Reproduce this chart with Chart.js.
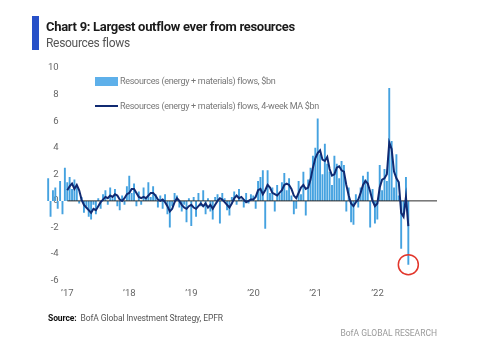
<!DOCTYPE html>
<html>
<head>
<meta charset="utf-8">
<script src="https://cdn.jsdelivr.net/npm/chart.js@4.4.1/dist/chart.umd.min.js"></script>
<style>
    body { margin: 0; background: #fff; }
    #wrap { position: relative; width: 485px; height: 360px; overflow: hidden; font-family: "Roboto", sans-serif; }
    #flowsChart { position: absolute; left: 0; top: 0; }
    .abs { position: absolute; white-space: nowrap; line-height: 1; }
    .accent { left: 32px; top: 16px; width: 7px; height: 34px; background: #2750c8; }
    .title { left: 46px; top: 20px; font-size: 13px; letter-spacing: -0.3px; font-weight: bold; color: #1a1a1a; }
    .subtitle { left: 46px; top: 37px; font-size: 12px; letter-spacing: -0.3px; color: #555; }
    .legend-text { left: 120px; font-size: 9px; letter-spacing: -0.3px; color: #777; }
    .swatch-bar { left: 95px; top: 77px; width: 23px; height: 9px; background: #5eb0ea; }
    .swatch-line { left: 95px; top: 105px; width: 23px; height: 2px; background: #102a72; }
    .source { left: 48px; top: 314px; font-size: 8.5px; letter-spacing: -0.1px; color: #555; }
    .source b { color: #111; }
    .brand { right: 48px; top: 329px; font-size: 8.5px; color: #999; }
</style>
</head>
<body>
<div id="wrap">
    <canvas id="flowsChart" width="485" height="360"></canvas>
    <div class="abs accent"></div>
    <div class="abs title">Chart 9: Largest outflow ever from resources</div>
    <div class="abs subtitle">Resources flows</div>
    <div class="abs swatch-bar"></div>
    <div class="abs legend-text" style="top:76.5px">Resources (energy + materials) flows, $bn</div>
    <div class="abs swatch-line"></div>
    <div class="abs legend-text" style="top:101.5px">Resources (energy + materials) flows, 4-week MA $bn</div>
    <div class="abs source"><b>Source:</b>&nbsp; BofA Global Investment Strategy, EPFR</div>
    <div class="abs brand">BofA GLOBAL RESEARCH</div>
</div>
<script>
const flows2016 = [1.7, -1.2, 0.8, 1.0, -0.6, 1.5, -1.0, 2.5];
const flows2017 = [1.4, 1.8, 0.9, 1.6, 1.2, -0.2, 0.3, -0.9, -0.4, -1.2, -1.4, -0.3, -1.0, 0.2, -0.6, 0.5, 0.8, -0.3, 1.0, 0.2, 0.9, -0.4, -0.7, 0.4, -0.3, 1.1];
const flows2018 = [1.9, 0.6, 1.3, -0.4, 0.7, -0.3, 1.0, 0.2, 1.4, 0.3, 1.1, 0.5, -0.5, 0.4, -0.6, 0.5, -1.0, -2.0, -0.4, 0.6, 0.4, -0.5, -0.8, -0.3, -1.6, 0.2];
const flows2019 = [-1.9, 0.3, -1.2, 0.6, -0.4, 0.8, -1.0, 0.2, -0.8, -1.4, 0.3, 0.5, -1.7, 0.6, 0.2, -0.7, -1.1, 0.3, 0.7, -0.3, 0.9, 0.1, -0.5, 0.6, -0.2, 0.5];
const flows2020 = [0.4, -0.6, 1.5, 1.8, 2.3, -2.1, 2.3, 0.6, 1.0, -0.8, 1.2, 0.5, 1.4, 2.1, 0.8, 1.7, 0.4, -1.0, -0.6, 1.5, 0.5, 2.2, -1.1, 1.6, 2.5, 3.4];
const flows2021 = [4.0, 6.2, 3.5, 2.0, 4.3, 2.8, 2.2, 1.2, 3.4, 2.8, 1.7, 3.0, 2.7, -0.8, 1.0, -1.6, -1.8, 0.5, -0.5, 1.0, 1.9, 1.6, 2.2, -2.0, 0.9, -1.7];
const flows2022 = [-1.4, 2.7, 0.8, 2.4, 1.5, 8.5, 4.5, 1.0, 3.5, 0.4, -3.6, -1.0, 1.8, -4.8];

// 4-week moving average ($bn), same dates; the line starts in 2017
const ma2016 = [null, null, null, null, null, null, null, null];
const ma2017 = [0.8, 1.1, 1.3, 0.9, 1.2, 0.8, 0.1, -0.3, -0.5, -0.7, -0.9, -0.6, -0.7, -0.4, -0.1, 0.1, 0.3, 0.2, 0.4, 0.3, 0.5, 0.4, 0.1, 0.0, 0.2, 0.5];
const ma2018 = [0.6, 0.9, 0.9, 0.6, 0.3, 0.2, 0.3, 0.2, 0.4, 0.6, 0.6, 0.4, 0.1, 0.0, 0.1, -0.1, -0.4, -0.8, -0.6, -0.1, 0.2, 0.0, -0.3, -0.5, -0.6, -0.4];
const ma2019 = [-0.3, -0.5, -0.6, -0.4, -0.2, -0.4, -0.2, -0.5, -0.3, -0.6, -0.3, 0.0, 0.2, 0.1, -0.1, -0.3, -0.5, -0.2, 0.2, 0.4, 0.2, 0.3, 0.1, -0.1, 0.0, 0.1];
const ma2020 = [0.1, 0.3, 0.8, 0.9, 0.5, 0.8, 1.2, 1.0, 0.6, 0.5, 0.4, 0.6, 0.8, 1.2, 1.3, 1.2, 0.9, 0.4, 0.2, 0.6, 1.0, 1.2, 0.9, 1.0, 1.6, 2.5];
const ma2021 = [3.2, 3.6, 3.8, 3.1, 3.0, 3.3, 2.4, 1.9, 2.0, 2.5, 2.6, 2.3, 2.2, 1.2, 0.4, -0.2, -0.4, -0.1, 0.1, 0.6, 1.2, 1.5, 1.3, 0.7, 0.0, -0.4];
const ma2022 = [-0.2, 1.0, 1.6, 1.7, 2.0, 4.4, 3.9, 2.2, 1.7, 1.4, -0.9, -1.2, 0.3, -1.9];

// Time axis (fractional years) and ticks
const firstDate = 2016.69;
const pointStep = 2 / 52;
const xMin = 2016.655;
const xMax = 2022.96;
const yTicks = [-6, -4, -2, 0, 2, 4, 6, 8, 10];
const yearTicks = [2017, 2018, 2019, 2020, 2021, 2022];
const zeroLineFrom = 2017;

const flows = [].concat(flows2016, flows2017, flows2018, flows2019, flows2020, flows2021, flows2022);
const movingAvg = [].concat(ma2016, ma2017, ma2018, ma2019, ma2020, ma2021, ma2022);
const dates = flows.map((_, i) => firstDate + i * pointStep);

const lastIdx = flows.length - 1;
const tickFont = { family: 'Roboto, sans-serif', size: 9.5 };

new Chart(document.getElementById('flowsChart'), {
    type: 'bar',
    data: {
        datasets: [
            {
                // circled record outflow
                type: 'scatter',
                data: [{ x: dates[lastIdx], y: flows[lastIdx] }],
                pointRadius: 10,
                pointBorderWidth: 1.5,
                pointBorderColor: '#e2362b',
                pointBackgroundColor: 'rgba(0,0,0,0)',
                order: 0
            },
            {
                type: 'line',
                data: dates.map((x, i) => ({ x: x, y: movingAvg[i] })),
                borderColor: '#102a72',
                borderWidth: 2,
                pointRadius: 0,
                tension: 0,
                spanGaps: false,
                order: 1
            },
            {
                type: 'line',
                data: [{ x: zeroLineFrom, y: 0 }, { x: xMax, y: 0 }],
                borderColor: '#2b2b2b',
                borderWidth: 1,
                pointRadius: 0,
                order: 2
            },
            {
                data: dates.map((x, i) => ({ x: x, y: flows[i] })),
                backgroundColor: '#45a2e0',
                barPercentage: 1,
                categoryPercentage: 0.8,
                order: 3
            }
        ]
    },
    options: {
        responsive: false,
        animation: false,
        devicePixelRatio: 1,
        layout: { padding: { left: 46, right: 48, top: 68, bottom: 54 } },
        plugins: {
            legend: { display: false },
            tooltip: { enabled: false }
        },
        scales: {
            x: {
                type: 'linear',
                min: xMin,
                max: xMax,
                offset: false,
                grid: { display: false, drawTicks: false, offset: false },
                border: { display: false },
                afterBuildTicks: (scale) => {
                    scale.ticks = yearTicks.map(v => ({ value: v }));
                },
                ticks: {
                    padding: 7,
                    color: '#666',
                    font: tickFont,
                    callback: (v) => '\u2019' + String(v).slice(2)
                }
            },
            y: {
                min: -6,
                max: 10,
                grid: { display: false, drawTicks: false },
                border: { display: false },
                afterBuildTicks: (scale) => {
                    scale.ticks = yTicks.map(v => ({ value: v }));
                },
                afterFit: (scale) => { scale.width = 0; },
                ticks: {
                    mirror: true,
                    crossAlign: 'far',
                    padding: 2,
                    color: '#666',
                    font: tickFont
                }
            }
        }
    }
});
</script>
</body>
</html>
